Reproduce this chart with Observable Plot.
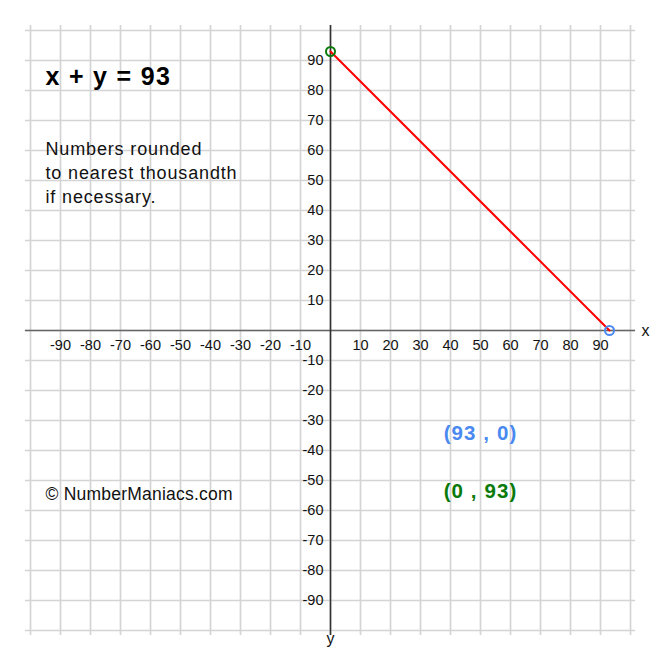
<!DOCTYPE html>
<html>
<head>
<meta charset="utf-8">
<script src="https://cdn.jsdelivr.net/npm/d3@7"></script>
<script src="https://cdn.jsdelivr.net/npm/@observablehq/plot@0.6"></script>
<style>
  body { margin: 0; background: #fff; }
  #chart svg { display: block; }
</style>
</head>
<body>
<div id="chart"></div>
<script>
// ---- data ----
const gridValues = d3.range(-100, 101, 10);
const xTickLabels = [-90, -80, -70, -60, -50, -40, -30, -20, -10, 10, 20, 30, 40, 50, 60, 70, 80, 90];
const yTickLabels = [90, 80, 70, 60, 50, 40, 30, 20, 10, -10, -20, -30, -40, -50, -60, -70, -80, -90];
const lineX = [0, 93];
const lineY = [93, 0];
const pointLabels = ["(93 , 0)", "(0 , 93)"];
const pointColors = ["#4a8af0", "#0a7a0a"];
const titleText = "x + y = 93";
const noteText = "Numbers rounded\nto nearest thousandth\nif necessary.";
const creditText = "© NumberManiacs.com";

const linePts = lineX.map((x, i) => ({x, y: lineY[i]}));
const ext = 101.7;
const font = "Liberation Sans, Arial, Helvetica, sans-serif";

const chart = Plot.plot({
  width: 660,
  height: 660,
  margin: 30,
  x: {domain: [-100, 100], axis: null},
  y: {domain: [-100, 100], axis: null},
  style: {fontFamily: font, background: "#fff"},
  marks: [
    Plot.ruleX(gridValues, {x: d => d, y1: -ext, y2: ext, stroke: "#d4d4d4", strokeWidth: 1.7}),
    Plot.ruleY(gridValues, {y: d => d, x1: -ext, x2: ext, stroke: "#d4d4d4", strokeWidth: 1.7}),
    Plot.ruleY([0], {x1: -ext, x2: ext, stroke: "#666", strokeWidth: 1.6}),
    Plot.ruleX([0], {y1: -ext, y2: ext, stroke: "#333", strokeWidth: 1.6}),
    Plot.text(xTickLabels, {x: d => d, y: 0, dy: 15, text: d => String(d), fontSize: 14.5, fill: "#111"}),
    Plot.text(yTickLabels, {x: 0, y: d => d, dx: -7, textAnchor: "end", text: d => String(d), fontSize: 14.5, fill: "#111"}),
    Plot.text(["x"], {x: 100, y: 0, dx: 15, fontSize: 16, fill: "#111"}),
    Plot.text(["y"], {x: 0, y: -100, dy: 8, fontSize: 16, fill: "#111"}),
    Plot.line(linePts, {x: "x", y: "y", stroke: "red", strokeWidth: 2}),
    Plot.dot(linePts.slice(0, 1), {x: "x", y: "y", r: 4.5, stroke: pointColors[1], strokeWidth: 2, fill: "none"}),
    Plot.dot(linePts.slice(1), {x: "x", y: "y", r: 4.5, stroke: pointColors[0], strokeWidth: 2, fill: "none"}),
    Plot.text([titleText], {frameAnchor: "top-left", dx: 15, dy: 54, lineAnchor: "bottom", textAnchor: "start", fontSize: 25, fontWeight: "bold", fill: "#000"}),
    Plot.text([noteText], {frameAnchor: "top-left", dx: 15, dy: 107, lineAnchor: "top", textAnchor: "start", fontSize: 18, lineHeight: 1.333, fill: "#111"}),
    Plot.text([creditText], {frameAnchor: "top-left", dx: 15, dy: 469, lineAnchor: "bottom", textAnchor: "start", fontSize: 17.5, fill: "#111"}),
    Plot.text([pointLabels[0]], {frameAnchor: "top", dx: 150, dy: 409, lineAnchor: "bottom", fontSize: 20.5, fontWeight: "bold", fill: pointColors[0]}),
    Plot.text([pointLabels[1]], {frameAnchor: "top", dx: 150, dy: 467, lineAnchor: "bottom", fontSize: 20.5, fontWeight: "bold", fill: pointColors[1]})
  ]
});

// widen letter spacing to mimic the reference's Helvetica rendering
const spacing = [
  [t => t === titleText, "1.3px"],
  [t => t.startsWith("Numbers"), "0.85px"],
  [t => t === creditText, "0.22px"],
  [t => pointLabels.includes(t), "1.1px"]
];
d3.select(chart).selectAll("text").each(function() {
  const t = this.textContent;
  for (const [test, ls] of spacing) {
    if (test(t)) this.setAttribute("letter-spacing", ls);
  }
});
document.getElementById("chart").appendChild(chart);
</script>
</body>
</html>
